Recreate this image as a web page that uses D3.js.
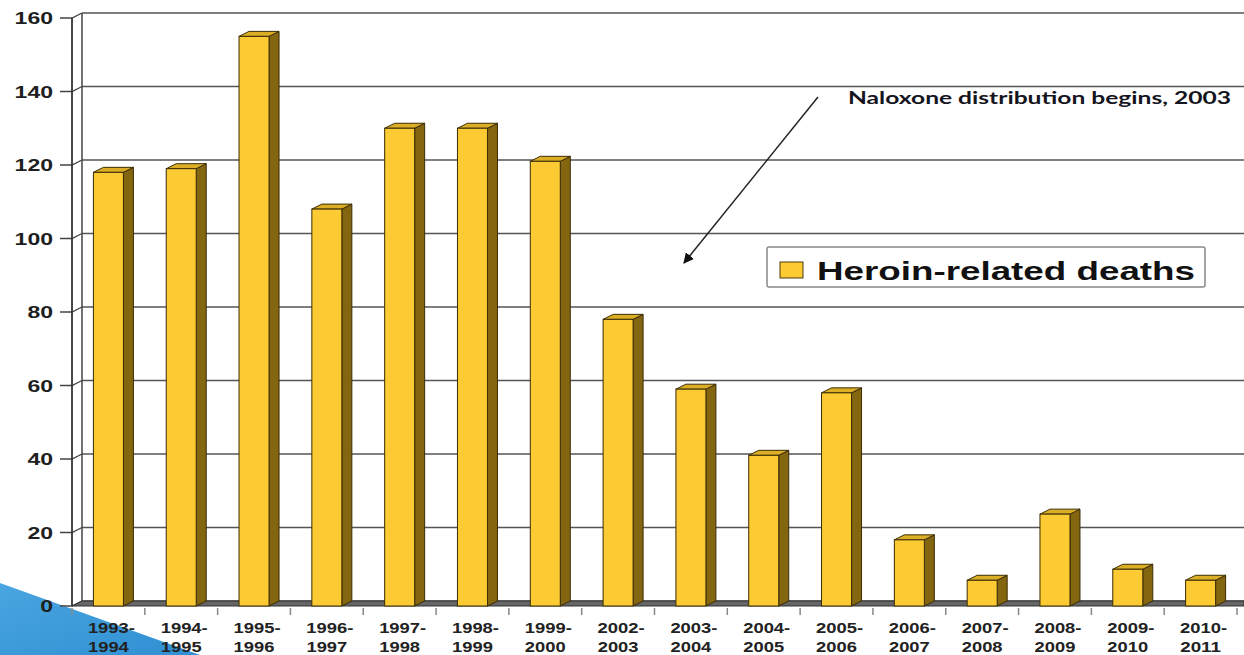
<!DOCTYPE html>
<html>
<head>
<meta charset="utf-8">
<script src="https://cdn.jsdelivr.net/npm/d3@7"></script>
<style>
  html, body { margin: 0; padding: 0; background: #fff; overflow: hidden; }
  svg { display: block; }
</style>
</head>
<body>
<svg id="chart" width="1244" height="655"></svg>
<script>
// data
var yearsFrom = ['1993', '1994', '1995', '1996', '1997', '1998', '1999', '2002',
                 '2003', '2004', '2005', '2006', '2007', '2008', '2009', '2010'];
var yearsTo = ['1994', '1995', '1996', '1997', '1998', '1999', '2000', '2003',
               '2004', '2005', '2006', '2007', '2008', '2009', '2010', '2011'];
var deaths = [118, 119, 155, 108, 130, 130, 121, 78, 59, 41, 58, 18, 7, 25, 10, 7];
var yTicks = [0, 20, 40, 60, 80, 100, 120, 140, 160];
var seriesName = 'Heroin-related deaths';
var noteText = 'Naloxone distribution begins, 2003';

///////////// LAYOUT /////////////
var svg = d3.select('#chart');
var plotLeft = 72, plotRight = 1237, plotTop = 18, plotBottom = 606;
var depthX = 10, depthY = -5;     // offset of the back wall
var barW = 30;

var x = d3.scaleBand().domain(d3.range(deaths.length)).range([plotLeft, plotRight]).padding(0);
var y = d3.scaleLinear().domain([0, 160]).range([plotBottom, plotTop]);

// the source picture is widened, so text gets a fixed width per character
function widen(sel, perChar) {
  sel.attr('textLength', function() { return this.textContent.length * perChar; })
     .attr('lengthAdjust', 'spacingAndGlyphs');
}

// blue corner decoration
var defs = svg.append('defs');
var grad = defs.append('linearGradient').attr('id', 'blue').attr('x1', 0).attr('y1', 0).attr('x2', 1).attr('y2', 1);
grad.append('stop').attr('offset', '0%').attr('stop-color', '#4aa6e0');
grad.append('stop').attr('offset', '100%').attr('stop-color', '#2f8fd2');
svg.append('path').attr('d', 'M0,583 L200,655 L0,655 Z').attr('fill', 'url(#blue)');

// back gridlines
svg.append('g').selectAll('line').data(yTicks).join('line')
  .attr('x1', plotLeft + depthX).attr('x2', 1244)
  .attr('y1', function(d) { return y(d) + depthY; })
  .attr('y2', function(d) { return y(d) + depthY; })
  .attr('stroke', '#555').attr('stroke-width', 1.5);

// side wall ticks (front -> back)
svg.append('g').selectAll('path').data(yTicks).join('path')
  .attr('d', function(d) {
    return 'M' + (plotLeft - 12) + ',' + y(d) + 'L' + plotLeft + ',' + y(d) +
           'L' + (plotLeft + depthX) + ',' + (y(d) + depthY);
  })
  .attr('fill', 'none').attr('stroke', '#444').attr('stroke-width', 1.3);

// walls
svg.append('line').attr('x1', plotLeft + depthX).attr('x2', plotLeft + depthX)
  .attr('y1', y(160) + depthY).attr('y2', y(0) + depthY)
  .attr('stroke', '#444').attr('stroke-width', 1.5);
svg.append('line').attr('x1', plotLeft).attr('x2', plotLeft)
  .attr('y1', y(160)).attr('y2', y(0))
  .attr('stroke', '#333').attr('stroke-width', 1.8);

// floor
svg.append('path')
  .attr('d', 'M' + plotLeft + ',' + plotBottom + 'L' + (plotLeft + depthX) + ',' + (plotBottom + depthY) +
             'L1244,' + (plotBottom + depthY) + 'L1244,' + plotBottom + 'Z')
  .attr('fill', '#666').attr('stroke', '#333').attr('stroke-width', 1);

// x ticks below floor
svg.append('g').selectAll('line').data(d3.range(deaths.length + 1)).join('line')
  .attr('x1', function(i) { return plotLeft + i * x.bandwidth(); })
  .attr('x2', function(i) { return plotLeft + i * x.bandwidth(); })
  .attr('y1', plotBottom + 2).attr('y2', plotBottom + 9)
  .attr('stroke', '#888').attr('stroke-width', 1.5);

// 3D bars
var bars = svg.append('g').selectAll('g').data(deaths).join('g');
function fx(d, i) { return x(i) + x.bandwidth() / 2 - barW / 2; }
bars.append('path') // side
  .attr('d', function(d, i) {
    var x0 = fx(d, i) + barW;
    return 'M' + x0 + ',' + y(d) + 'L' + (x0 + depthX) + ',' + (y(d) + depthY) +
           'L' + (x0 + depthX) + ',' + (y(0) + depthY) + 'L' + x0 + ',' + y(0) + 'Z';
  })
  .attr('fill', '#846510').attr('stroke', '#3a2c05').attr('stroke-width', 1);
bars.append('path') // top
  .attr('d', function(d, i) {
    var x0 = fx(d, i);
    return 'M' + x0 + ',' + y(d) + 'L' + (x0 + depthX) + ',' + (y(d) + depthY) +
           'L' + (x0 + barW + depthX) + ',' + (y(d) + depthY) + 'L' + (x0 + barW) + ',' + y(d) + 'Z';
  })
  .attr('fill', '#dcae26').attr('stroke', '#3a2c05').attr('stroke-width', 1);
bars.append('rect') // front
  .attr('x', fx).attr('y', function(d) { return y(d); })
  .attr('width', barW).attr('height', function(d) { return y(0) - y(d); })
  .attr('fill', '#fccb34').attr('stroke', '#3a2c05').attr('stroke-width', 1);

// y tick labels
var yl = svg.append('g').selectAll('text').data(yTicks).join('text')
  .attr('x', 53).attr('y', function(d) { return y(d) + 6; })
  .attr('text-anchor', 'end')
  .attr('font-family', 'Liberation Sans, Arial, sans-serif')
  .attr('font-weight', 'bold').attr('font-size', 16).attr('fill', '#1e1e1e')
  .text(function(d) { return d; });
widen(yl, 12.8);

// x labels, two lines
var xl1 = svg.append('g').selectAll('text').data(yearsFrom).join('text')
  .attr('x', function(d, i) { return x(i) + x.bandwidth() / 2 + 3; })
  .attr('y', 633).attr('text-anchor', 'middle')
  .attr('font-family', 'Liberation Sans, Arial, sans-serif')
  .attr('font-weight', 'bold').attr('font-size', 15.5).attr('fill', '#222')
  .text(function(d) { return d + '-'; });
widen(xl1, 9.4);
var xl2 = svg.append('g').selectAll('text').data(yearsTo).join('text')
  .attr('x', function(d, i) { return x(i) + x.bandwidth() / 2; })
  .attr('y', 652).attr('text-anchor', 'middle')
  .attr('font-family', 'Liberation Sans, Arial, sans-serif')
  .attr('font-weight', 'bold').attr('font-size', 15.5).attr('fill', '#222')
  .text(function(d) { return d; });
widen(xl2, 10.2);

// annotation with arrow
defs.append('marker').attr('id', 'arrow').attr('viewBox', '0 0 10 10')
  .attr('refX', 9).attr('refY', 5).attr('markerWidth', 7).attr('markerHeight', 7)
  .attr('orient', 'auto')
  .append('path').attr('d', 'M0,0 L10,5 L0,10 Z').attr('fill', '#111');
svg.append('line').attr('x1', 818).attr('y1', 97).attr('x2', 684).attr('y2', 263)
  .attr('stroke', '#222').attr('stroke-width', 1.5).attr('marker-end', 'url(#arrow)');
var note = svg.append('text').attr('x', 848).attr('y', 104)
  .attr('font-family', 'Lato, Open Sans, sans-serif').attr('font-weight', 'bold')
  .attr('font-size', 16.5).attr('fill', '#151520').text(noteText);
note.attr('textLength', 383).attr('lengthAdjust', 'spacingAndGlyphs');

// legend
var lg = svg.append('g');
lg.append('rect').attr('x', 767).attr('y', 247).attr('width', 438).attr('height', 40)
  .attr('rx', 2).attr('fill', '#fff').attr('stroke', '#888').attr('stroke-width', 1.5);
lg.append('rect').attr('x', 780).attr('y', 262).attr('width', 23).attr('height', 16)
  .attr('fill', '#fccb34').attr('stroke', '#4a3a0a').attr('stroke-width', 1);
var lt = lg.append('text').attr('x', 817).attr('y', 280)
  .attr('font-family', 'Liberation Sans, Arial, sans-serif').attr('font-weight', 'bold')
  .attr('font-size', 26).attr('fill', '#111').text(seriesName);
lt.attr('textLength', 378).attr('lengthAdjust', 'spacingAndGlyphs');
</script>
</body>
</html>
